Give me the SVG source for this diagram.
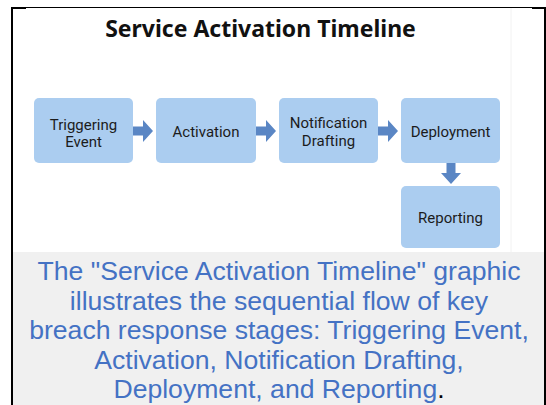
<svg xmlns="http://www.w3.org/2000/svg" width="546" height="405" viewBox="0 0 546 405">
  <style>
    .box { fill: #abcdf0; }
    .lbl { font-family: Roboto, "Noto Sans", sans-serif; font-size: 15px; fill: #1c1c1c; text-anchor: middle; }
    .arrow { fill: #5a86c4; }
    .title { font-family: "Noto Sans", "DejaVu Sans", sans-serif; font-size: 23px; font-weight: bold; fill: #111; text-anchor: middle; }
    .cap { font-family: "Liberation Sans", Arial, sans-serif; font-size: 26.6px; fill: #4472c4; text-anchor: middle; }
  </style>
  <rect x="0" y="0" width="546" height="405" fill="#ffffff"/>
  <rect x="12" y="252" width="533" height="153" fill="#f0f0f0"/>
  <line x1="511" y1="8" x2="511" y2="252" stroke="#f2f2f2" stroke-width="1"/>
  <g id="frame">
    <line x1="11" y1="7.5" x2="546" y2="7.5" stroke="#000" stroke-width="1"/>
    <rect x="11" y="7" width="15" height="2" fill="#000"/>
    <rect x="532" y="7" width="14" height="2" fill="#000"/>
    <rect x="11" y="7" width="2" height="398" fill="#000"/>
    <rect x="544" y="7" width="2" height="398" fill="#000"/>
  </g>
  <text class="title" x="260.5" y="37">Service Activation Timeline</text>

  <g id="connectors">
    <polygon class="arrow" points="133,126.5 143,126.5 143,120 153,131 143,142 143,135.5 133,135.5"/>
    <polygon class="arrow" points="256,126.5 266,126.5 266,120 276,131 266,142 266,135.5 256,135.5"/>
    <polygon class="arrow" points="378,126.5 388,126.5 388,120 398,131 388,142 388,135.5 378,135.5"/>
    <polygon class="arrow" points="446.5,163 455.5,163 455.5,173 461,173 451,184 441,173 446.5,173"/>
  </g>

  <g id="node-triggering">
    <rect class="box" x="34" y="98" width="99" height="65" rx="5"/>
    <text class="lbl" x="83.5" y="129.5">Triggering</text>
    <text class="lbl" x="83.5" y="147.2">Event</text>
  </g>
  <g id="node-activation">
    <rect class="box" x="156" y="98" width="100" height="65" rx="5"/>
    <text class="lbl" x="206" y="136.5">Activation</text>
  </g>
  <g id="node-notification">
    <rect class="box" x="279" y="98" width="99" height="65" rx="5"/>
    <text class="lbl" x="328.5" y="128">Notification</text>
    <text class="lbl" x="328.5" y="145.7">Drafting</text>
  </g>
  <g id="node-deployment">
    <rect class="box" x="401" y="98" width="99" height="65" rx="5"/>
    <text class="lbl" x="450.5" y="136.5">Deployment</text>
  </g>
  <g id="node-reporting">
    <rect class="box" x="401" y="186" width="99" height="62" rx="5"/>
    <text class="lbl" x="450.5" y="223">Reporting</text>
  </g>

  <g id="caption">
    <text class="cap" x="279" y="280">The "Service Activation Timeline" graphic</text>
    <text class="cap" x="279" y="309.5">illustrates the sequential flow of key</text>
    <text class="cap" x="279" y="339">breach response stages: Triggering Event,</text>
    <text class="cap" x="279" y="368.5">Activation, Notification Drafting,</text>
    <text class="cap" x="279" y="398">Deployment, and Reporting<tspan fill="#000">.</tspan></text>
  </g>
</svg>
